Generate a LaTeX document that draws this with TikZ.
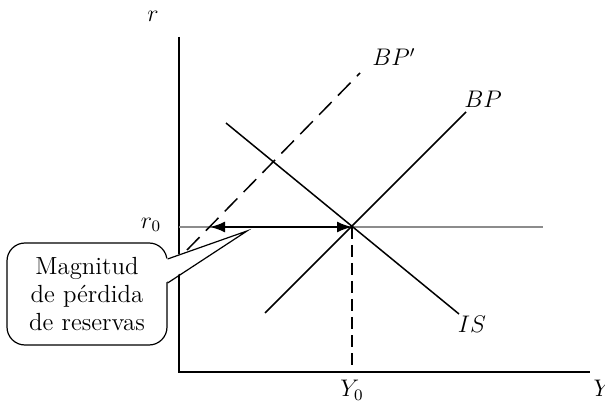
\documentclass[tikz,border=0pt]{standalone}
\usepackage{tikz}
\usetikzlibrary{arrows.meta,positioning,calc}
\definecolor{refline}{HTML}{8C8C8C}

\begin{document}
\begin{tikzpicture}[x=0.5pt, y=-0.5pt,
  axis/.style={line width=0.6pt, black},
  curve/.style={line width=0.75pt, black},
  shifted/.style={line width=0.75pt, black, dash pattern=on 9pt off 4.5pt},
  guide/.style={line width=0.7pt, black, dash pattern=on 6pt off 3pt},
  lbl/.style={font=\fontsize{11.5}{13}\selectfont, inner sep=0pt},
  gap/.style={{Latex[length=7.5pt,width=5.5pt]}-{Latex[length=7.5pt,width=5.5pt]}, line width=1pt},
  note/.style={draw, line width=0.6pt, rounded corners=9pt, minimum width=80pt, minimum height=51pt, align=center, font=\fontsize{12.4}{14}\selectfont, fill=white}
]
  \useasboundingbox (0,0) rectangle (605,406);

  % axes
  \coordinate (O) at (179,372);
  \coordinate (rtop) at (179,37);
  \coordinate (yend) at (590,372);
  \draw[axis] (rtop) -- (O) -- (yend);
  \node[lbl] (rlab) at (153,16) {$r$};
  \node[lbl] (ylab) at (603,388) {$Y$};

  % equilibrium
  \coordinate (E) at (352,227);
  \coordinate (rleft) at (179,227);
  \coordinate (rright) at (543,227);
  \draw[refline, line width=0.7pt] (rleft) -- (rright);
  \node[lbl] (r0) at (151,225) {$r_0$};
  \node[lbl] (y0) at (352,390) {$Y_0$};
  \draw[guide] (E) -- (O -| E);

  % curves
  \coordinate (is1) at (226,123);
  \coordinate (is2) at (459,314);
  \coordinate (bp1) at (265,313);
  \coordinate (bp2) at (466,112);
  \coordinate (bq1) at (187,250);
  \coordinate (bq2) at (360,73);
  \draw[curve] (is1) -- (is2);
  \draw[curve] (bp1) -- (bp2);
  \draw[shifted] (bq1) -- (bq2);
  \node[lbl] (islab) at (472,324) {$IS$};
  \node[lbl] (bplab) at (483,99) {$BP$};
  \node[lbl] (bqlab) at (394,57) {$BP'$};

  % loss of reserves
  \coordinate (A) at (210,227);
  \draw[gap] (A) -- (E);

  \node[note] (loss) at (87,294) {Magnitud\\de p\'erdida\\de reservas};
  \coordinate (tip) at (247,231);
  \fill[white] (165,259) -- (tip) -- (165,283) -- cycle;
  \draw[line width=0.6pt] (loss.east |- 0,259) -- (tip) -- (loss.east |- 0,283);
\end{tikzpicture}
\end{document}
